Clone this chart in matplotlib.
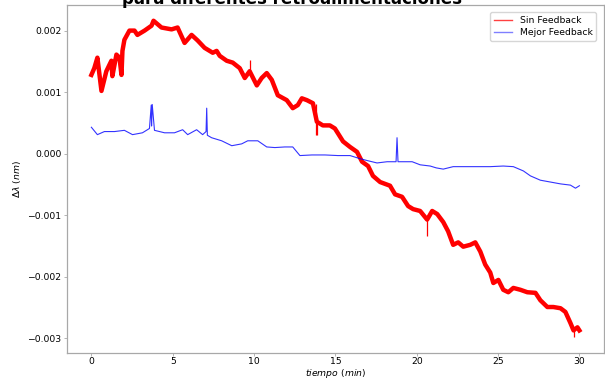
import numpy as np
import matplotlib
matplotlib.use('Agg')
from matplotlib import pyplot as plt
from matplotlib.lines import Line2D

# tiempo (min) y corrimiento (nm)
t_sin = [0.00, 0.18, 0.37, 0.62, 0.92, 1.23, 1.29, 1.54, 1.73, 1.85, 1.91, 2.03,
         2.34, 2.65, 2.83, 3.27, 3.70, 3.82, 4.31, 4.93, 5.30, 5.73, 6.16, 6.53,
         6.96, 7.46, 7.70, 7.89, 8.32, 8.69, 9.12, 9.43, 9.73, 10.17, 10.47, 10.78,
         11.09, 11.46, 12.01, 12.38, 12.69, 12.94, 13.25, 13.62, 13.86, 14.23, 14.66,
         14.97, 15.28, 15.47, 15.90, 16.33, 16.64, 17.01, 17.31, 17.75, 18.36, 18.67,
         19.10, 19.47, 19.78, 20.21, 20.64, 20.95, 21.26, 21.63, 21.93, 22.24, 22.55,
         22.86, 23.29, 23.60, 23.91, 24.21, 24.52, 24.71, 25.02, 25.32, 25.63, 25.94,
         26.37, 26.80, 27.30, 27.60, 28.03, 28.40, 28.84, 29.14, 29.45, 29.64, 29.88,
         30.00]
y_sin = [1.28, 1.39, 1.56, 1.02, 1.34, 1.51, 1.26, 1.61, 1.56, 1.28, 1.67, 1.85,
         2.00, 2.00, 1.93, 2.00, 2.08, 2.16, 2.05, 2.02, 2.05, 1.80, 1.93, 1.84,
         1.72, 1.64, 1.67, 1.59, 1.51, 1.48, 1.39, 1.23, 1.34, 1.11, 1.23, 1.31,
         1.20, 0.95, 0.87, 0.74, 0.79, 0.90, 0.87, 0.82, 0.52, 0.46, 0.46,
         0.41, 0.28, 0.20, 0.11, 0.03, -0.13, -0.20, -0.36, -0.46, -0.52, -0.66,
         -0.70, -0.85, -0.90, -0.93, -1.07, -0.93, -0.98, -1.11, -1.26, -1.48, -1.44,
         -1.51, -1.48, -1.44, -1.59, -1.80, -1.93, -2.10, -2.05, -2.21, -2.25, -2.18,
         -2.21, -2.25, -2.26, -2.38, -2.49, -2.49, -2.51, -2.57, -2.75, -2.87, -2.82,
         -2.87]
# picos aislados de la curva sin feedback
t_pico = [0.62, 9.73, 13.80, 13.86, 20.64, 29.64]
y_pico_a = [1.00, 1.34, 0.80, 0.52, -1.07, -2.87]
y_pico_b = [1.00, 1.52, 0.30, 0.30, -1.34, -2.98]

t_mej = [0.00, 0.37, 0.80, 1.42, 2.03, 2.53, 3.14, 3.57, 3.68, 3.70, 3.74, 3.88,
         4.50, 5.11, 5.61, 5.92, 6.47, 6.84, 7.05, 7.09, 7.13, 7.39, 8.01, 8.63,
         9.24, 9.61, 10.23, 10.78, 11.28, 11.89, 12.38, 12.82, 13.56, 14.36, 15.16,
         15.90, 16.51, 16.94, 17.56, 18.18, 18.73, 18.79, 18.85, 19.72, 20.21, 20.83,
         21.20, 21.63, 22.24, 22.86, 23.72, 24.52, 25.32, 25.94, 26.56, 26.99, 27.60,
         28.22, 28.84, 29.45, 29.76, 30.00]
y_mej = [0.43, 0.31, 0.36, 0.36, 0.38, 0.31, 0.34, 0.41, 0.79, 0.45, 0.80, 0.38,
         0.34, 0.34, 0.39, 0.31, 0.39, 0.31, 0.36, 0.74, 0.30, 0.26, 0.21, 0.13,
         0.16, 0.21, 0.21, 0.11, 0.10, 0.11, 0.11, -0.03, -0.02, -0.02, -0.03,
         -0.03, -0.08, -0.11, -0.15, -0.13, -0.13, 0.26, -0.13, -0.13, -0.18, -0.20,
         -0.23, -0.25, -0.21, -0.21, -0.21, -0.21, -0.20, -0.21, -0.28, -0.36, -0.43,
         -0.46, -0.49, -0.51, -0.56, -0.52]

esc = 1e-3
fs = 6.7
gris = '#a8a8a8'

fig = plt.figure(figsize=(6.05, 3.79), dpi=100)
ax = fig.add_axes([0.1107, 0.0686, 0.8873, 0.9184])

ax.plot(t_sin, np.array(y_sin) * esc, color='red', lw=3.2)
ax.vlines(t_pico, np.array(y_pico_a) * esc, np.array(y_pico_b) * esc, color='red', lw=0.9)
ax.plot(t_mej, np.array(y_mej) * esc, color='blue', lw=0.8, alpha=0.8)

ax.set_xticks([0, 5, 10, 15, 20, 25, 30])
ax.set_yticks([-0.003, -0.002, -0.001, 0.000, 0.001, 0.002])
ax.tick_params(labelsize=fs, length=2, width=0.6, color=gris, pad=2)
ax.tick_params(axis='x', pad=1)
for s in ax.spines.values():
    s.set_color(gris)
    s.set_linewidth(0.9)

ax.set_xlabel(r'$tiempo\ (min)$', fontsize=fs, va='center')
ax.xaxis.set_label_coords(0.5, -0.058)
ax.set_ylabel(r'$\Delta\lambda\ (nm)$', fontsize=fs, labelpad=3)

hs = [Line2D([], [], color='red', lw=1, alpha=0.75),
      Line2D([], [], color='blue', lw=1, alpha=0.5)]
ax.legend(hs, ['Sin Feedback', 'Mejor Feedback'], loc='upper right', fontsize=fs,
          handlelength=2.0, borderpad=0.4, labelspacing=0.3, borderaxespad=0.8)

fig.text(0.483, 0.9894, 'para diferentes retroalimentaciones', ha='center',
         va='baseline', fontsize=12, fontweight='bold')

fig.savefig('out.png', dpi=100)
